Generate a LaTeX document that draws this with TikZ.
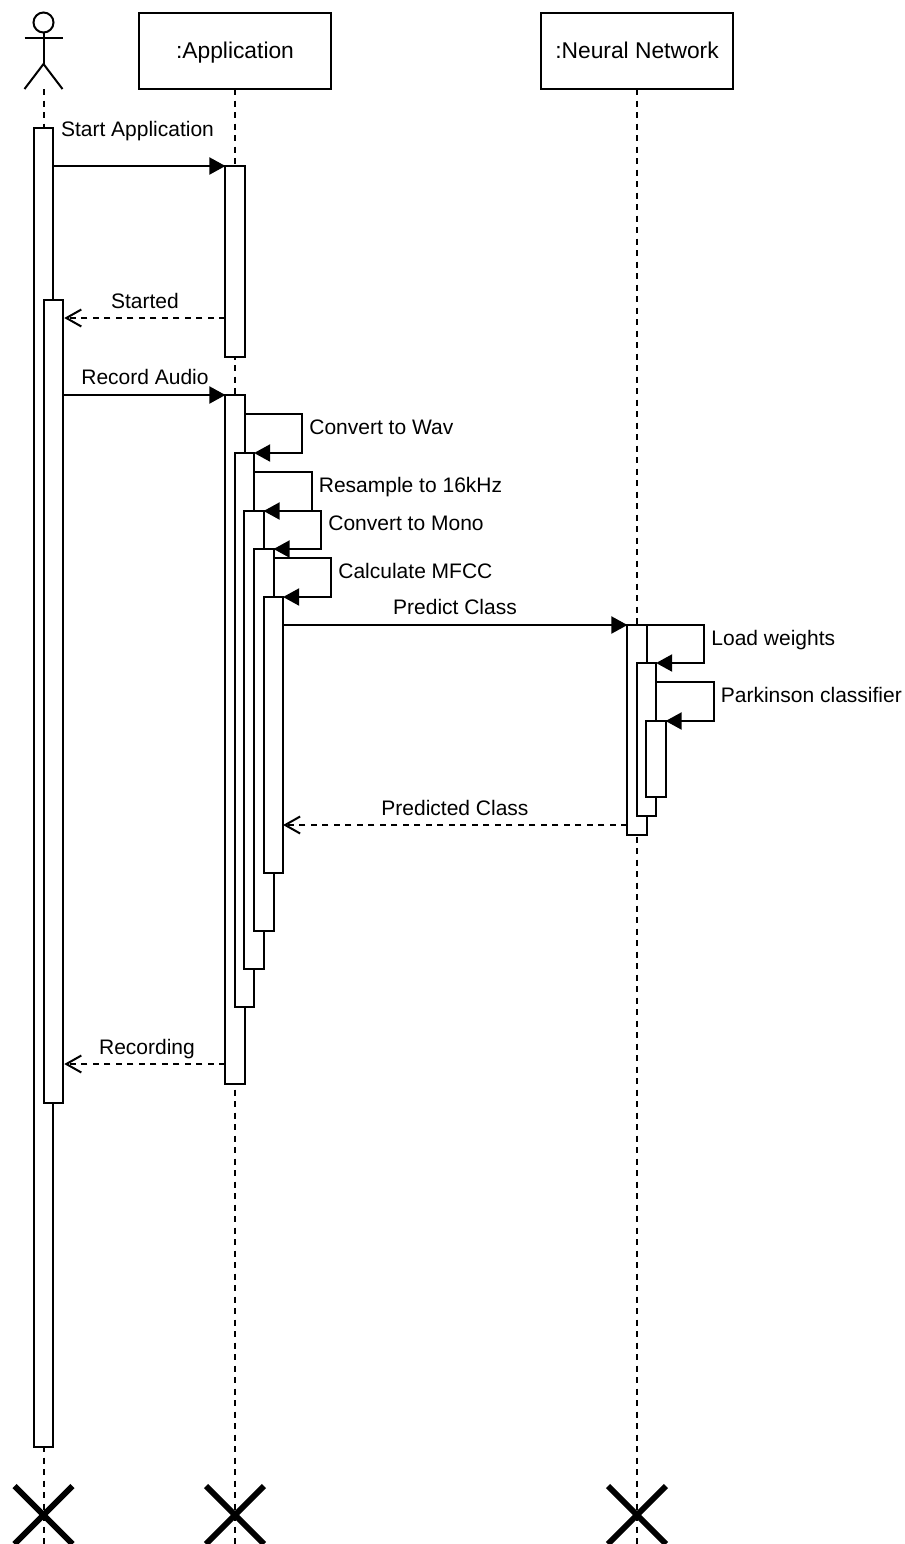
\documentclass[tikz,border=0pt]{standalone}
\usepackage{fontspec}
\setmainfont{Liberation Sans}
\usetikzlibrary{arrows.meta}

\tikzset{
  lifeline/.style={line width=1pt, dash pattern=on 3pt off 2.75pt},
  headbox/.style={draw, fill=white, line width=1pt, outer sep=0pt, inner sep=0pt, minimum width=96pt, minimum height=38pt, text height=9pt, text depth=2pt, font=\fontsize{11.4}{13}\selectfont},
  actbar/.style={draw, fill=white, line width=1pt, outer sep=0pt, inner sep=0pt, minimum width=9.6pt, anchor=north},
  msglabel/.style={anchor=base, inner sep=0pt, font=\fontsize{10.5}{12}\selectfont},
  selflabel/.style={msglabel, anchor=base west},
  callmsg/.style={line width=1pt, -{Triangle[length=8pt,width=8.5pt]}},
  replymsg/.style={line width=1pt, dash pattern=on 3pt off 2.75pt, -{Straight Barb[length=7.5pt,width=8.5pt]}},
  selfmsg/.style={callmsg},
  endmark/.style={line width=2.9pt}
}

\begin{document}
\begin{tikzpicture}[x=0.5pt,y=-0.5pt]
  \useasboundingbox (0,0) rectangle (905,1544);

  %Actor
  \node[draw, circle, line width=1pt, minimum size=10pt, inner sep=0pt, outer sep=0pt] (actorHead) at (43.5,22.5) {};
  \coordinate (actorHip) at (43.5,64);
  \coordinate (actorFoot) at (43.5,89);
  \draw[line width=1pt] (actorHead.south) -- (actorHip);
  \draw[line width=1pt] (24.5,38) -- (62.5,38);
  \draw[line width=1pt] (24.5,89) -- (actorHip) -- (62.5,89);

  %Header boxes
  \node[headbox] (boxApp) at (235,51) {:Application};
  \node[headbox] (boxNet) at (637,51) {:Neural Network};

  %Lifelines, first since the bars go over them
  \coordinate (endUser) at (43.5,1544);
  \coordinate (endApp) at (235,1544);
  \coordinate (endNet) at (637,1544);
  \draw[lifeline] (actorFoot) -- (endUser);
  \draw[lifeline] (boxApp.south) -- (endApp);
  \draw[lifeline] (boxNet.south) -- (endNet);

  %Activation bars
  \foreach \name/\x/\top/\bot in {
    barUserA/43.5/128/1447, barUserB/53.5/300/1103,
    barAppA/235/166/357, barAppB/235/395/1084, barAppC/244.5/453/1007,
    barAppD/254/511/969, barAppE/264/549/931, barAppF/273.5/597/873,
    barNetA/637/625/835, barNetB/646.5/663/816, barNetC/656/721/797}
  {
    \node[actbar, minimum height={(\bot-\top)*0.5pt}] (\name) at (\x,\top) {};
  }

  %Calls between lifelines
  \coordinate (lineStarted) at (0,318);
  \coordinate (linePredicted) at (0,825);
  \coordinate (lineRecording) at (0,1064);
  \coordinate (linePredict) at (0,625);
  \draw[callmsg] (barUserA.east |- barAppA.north) -- (barAppA.north west);
  \draw[replymsg] (barAppA.west |- lineStarted) -- ([xshift=0.6pt]barUserB.east |- lineStarted);
  \draw[callmsg] (barUserB.east |- barAppB.north) -- (barAppB.north west);
  \draw[callmsg] (barAppF.east |- linePredict) -- (barNetA.north west);
  \draw[replymsg] (barNetA.west |- linePredicted) -- (barAppF.east |- linePredicted);
  \draw[replymsg] (barAppB.west |- lineRecording) -- ([xshift=0.6pt]barUserB.east |- lineRecording);

  %Self calls
  \foreach \from/\to/\ystart/\xturn in {
    barAppB/barAppC/414/302, barAppC/barAppD/472/312, barAppD/barAppE/511/321,
    barAppE/barAppF/558/331, barNetA/barNetB/625/704, barNetB/barNetC/682/714}
  {
    \draw[selfmsg] (\from.east |- 0,\ystart) -- (\xturn,\ystart) -- (\xturn,0 |- \to.north) -- (\to.north east);
  }

  %Some labels
  \node[msglabel] (lblStart) at (137.5,136) {Start Application};
  \node[msglabel] (lblStarted) at (145,308) {Started};
  \node[msglabel] (lblRecord) at (145,384) {Record Audio};
  \node[msglabel] (lblPredict) at (455,614) {Predict Class};
  \node[msglabel] (lblPredicted) at (455,815) {Predicted Class};
  \node[msglabel] (lblRecording) at (147,1054) {Recording};
  \node[selflabel] (lblWav) at (309,434) {Convert to Wav};
  \node[selflabel] (lblResample) at (318.5,492) {Resample to 16kHz};
  \node[selflabel] (lblMono) at (328,530) {Convert to Mono};
  \node[selflabel] (lblMfcc) at (338,578) {Calculate MFCC};
  \node[selflabel] (lblWeights) at (711,645) {Load weights};
  \node[selflabel] (lblClassifier) at (720.5,702) {Parkinson classifier};

  %Destroy marks
  \foreach \x in {43.5,235,637}
  {
    \draw[endmark] (\x-29,1486) -- (\x+29,1544);
    \draw[endmark] (\x+29,1486) -- (\x-29,1544);
  }
\end{tikzpicture}
\end{document}
